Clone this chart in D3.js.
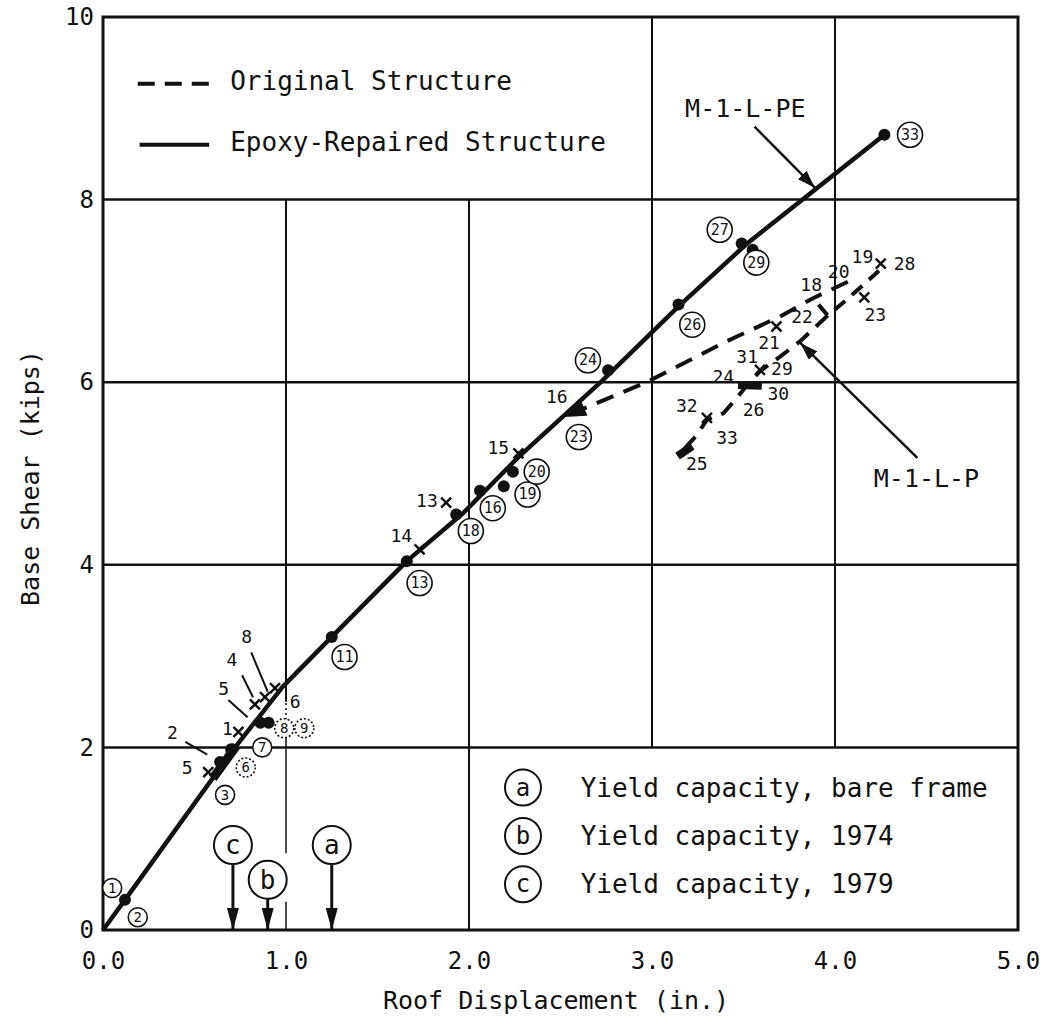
<!DOCTYPE html>
<html>
<head>
<meta charset="utf-8">
<script src="https://cdn.jsdelivr.net/npm/d3@7"></script>
<style>
  html, body { margin: 0; padding: 0; background: #fff; }
  svg { display: block; }
  text { font-family: "DejaVu Sans Mono", monospace; fill: #111; }
</style>
</head>
<body>
<svg id="chart" width="1047" height="1026"></svg>
<script>
"use strict";

// axes
var xTickValues = [0, 1, 2, 3, 4, 5];
var xTickLabels = ['0.0', '1.0', '2.0', '3.0', '4.0', '5.0'];
var yTickValues = [0, 2, 4, 6, 8, 10];

// Epoxy-repaired structure (M-1-L-PE): roof displacement (in.) / base shear (kips)
var epoxyDisp  = [0, 0.12, 0.71, 0.98, 1.25, 1.66, 1.97, 2.27, 2.73, 3.145, 3.52, 4.27];
var epoxyShear = [0, 0.33, 1.97, 2.66, 3.21, 4.04, 4.57, 5.18, 6.02, 6.83, 7.52, 8.71];

// filled test points on the epoxy curve
var dotDisp  = [0.12, 0.64, 0.70, 0.86, 0.905, 1.25, 1.66, 1.93, 2.06, 2.19, 2.24, 2.76, 3.145, 3.49, 3.55, 4.27];
var dotShear = [0.33, 1.84, 1.98, 2.27, 2.27, 3.21, 4.04, 4.55, 4.81, 4.86, 5.02, 6.13, 6.85, 7.52, 7.45, 8.71];

// circled run numbers (epoxy-repaired)
var runNames = ['1', '2', '3', '6', '7', '8', '9', '11', '13', '16', '18', '19', '20', '23', '24', '26', '27', '29', '33'];
var runDisp  = [0.05, 0.19, 0.667, 0.78, 0.87, 0.99, 1.10, 1.32, 1.73, 2.13, 2.01, 2.32, 2.37, 2.60, 2.65, 3.22, 3.37, 3.57, 4.41];
var runShear = [0.46, 0.14, 1.48, 1.78, 2.00, 2.21, 2.21, 2.99, 3.80, 4.62, 4.37, 4.77, 5.02, 5.40, 6.24, 6.63, 7.67, 7.31, 8.71];
var runFaint = ['6', '8', '9'];

// Original structure (M-1-L-P), dashed branches
var origUpDisp    = [4.07, 3.88, 3.70, 3.41, 2.97, 2.52];
var origUpShear   = [7.10, 6.92, 6.72, 6.45, 6.00, 5.62];
var origPeakDisp  = [3.91, 3.96, 4.05, 4.24];
var origPeakShear = [6.85, 6.73, 6.88, 7.22];
var origDownDisp  = [3.96, 3.81, 3.70, 3.59, 3.52, 3.46, 3.39, 3.30, 3.245, 3.14];
var origDownShear = [6.73, 6.45, 6.28, 6.12, 5.97, 5.82, 5.66, 5.59, 5.42, 5.19];

// original structure test points (x marks)
var markDisp  = [0.575, 0.74, 0.83, 0.885, 0.94, 1.73, 1.875, 2.27, 3.68, 4.25, 4.16, 3.59, 3.30];
var markShear = [1.73, 2.17, 2.47, 2.55, 2.65, 4.17, 4.68, 5.22, 6.61, 7.30, 6.93, 6.135, 5.61];

// original structure run numbers
var origNames = ['5', '2', '1', '5', '4', '8', '6', '14', '13', '15', '16', '21', '22', '18', '20', '19', '28', '23', '31', '29', '24', '30', '26', '32', '33', '25'];
var origDisp  = [0.46, 0.38, 0.68, 0.66, 0.705, 0.785, 1.05, 1.63, 1.77, 2.16, 2.48, 3.64, 3.82, 3.87, 4.02, 4.15, 4.38, 4.22, 3.52, 3.71, 3.39, 3.69, 3.555, 3.19, 3.41, 3.245];
var origShear = [1.78, 2.16, 2.21, 2.65, 2.96, 3.21, 2.50, 4.32, 4.70, 5.29, 5.84, 6.43, 6.72, 7.07, 7.21, 7.38, 7.30, 6.74, 6.28, 6.15, 6.06, 5.88, 5.70, 5.75, 5.39, 5.11];

// leader lines from run numbers to their points [x1, y1, x2, y2]
var leaders = [
    [0.45, 2.06, 0.57, 1.92],
    [0.685, 2.52, 0.79, 2.33],
    [0.76, 2.79, 0.82, 2.55],
    [0.81, 3.04, 0.90, 2.61]
];

// yield capacities
var yieldKeys  = ['a', 'b', 'c'];
var yieldDisp  = [1.25, 0.90, 0.71];
var yieldTagAt = [0.93, 0.55, 0.93];
var yieldText  = ['Yield capacity, bare frame', 'Yield capacity, 1974', 'Yield capacity, 1979'];

var ink = '#111';
var svg = d3.select('#chart');
var x = d3.scaleLinear().domain([0, 5]).range([103, 1018]);
var y = d3.scaleLinear().domain([0, 10]).range([930, 17]);

function zip(xs, ys) {
    return xs.map((v, i) => [v, ys[i]]);
}

var line = d3.line().x(d => x(d[0])).y(d => y(d[1]));

// arrowheads
var defs = svg.append('defs');
function arrowMarker(id, len, half) {
    defs.append('marker')
        .attr('id', id)
        .attr('viewBox', `0 ${-half} ${len} ${half * 2}`)
        .attr('refX', len)
        .attr('refY', 0)
        .attr('markerWidth', len)
        .attr('markerHeight', half * 2)
        .attr('markerUnits', 'userSpaceOnUse')
        .attr('orient', 'auto')
        .append('path')
        .attr('d', `M0,${-half}L${len},0L0,${half}Z`)
        .attr('fill', ink);
}
arrowMarker('head-yield', 22, 6);
arrowMarker('head-ptr', 18, 6);
arrowMarker('head-dash', 22, 8);

// grid
var grid = svg.append('g').attr('stroke', ink).attr('fill', 'none');
[2, 4, 6, 8].forEach(v => {
    grid.append('line')
        .attr('x1', x(0)).attr('x2', x(5))
        .attr('y1', y(v)).attr('y2', y(v))
        .attr('stroke-width', 2.5);
});
var vSegments = [[1, 2.5, 8], [1, 0.84, 2.08], [1, 0, 0.31], [2, 0, 8], [3, 2, 10], [4, 2, 10]];
vSegments.forEach(s => {
    grid.append('line')
        .attr('x1', x(s[0])).attr('x2', x(s[0]))
        .attr('y1', y(s[1])).attr('y2', y(s[2]))
        .attr('stroke-width', s[0] === 1 && s[2] < 2.5 ? 1.5 : 2);
});
grid.append('line')
    .attr('x1', x(1)).attr('x2', x(1))
    .attr('y1', y(2.08)).attr('y2', y(2.5))
    .attr('stroke-width', 1.5)
    .attr('stroke-dasharray', '2,3');

// frame
svg.append('rect')
    .attr('x', x(0)).attr('y', y(10))
    .attr('width', x(5) - x(0)).attr('height', y(0) - y(10))
    .attr('fill', 'none').attr('stroke', ink).attr('stroke-width', 3);

// tick labels
var xAxis = svg.append('g')
    .attr('transform', `translate(0,${y(0)})`)
    .call(d3.axisBottom(x).tickValues(xTickValues).tickFormat((d, i) => xTickLabels[i]).tickSize(0).tickPadding(22));
var yAxis = svg.append('g')
    .attr('transform', `translate(${x(0)},0)`)
    .call(d3.axisLeft(y).tickValues(yTickValues).tickFormat(d3.format('d')).tickSize(0).tickPadding(9));
[xAxis, yAxis].forEach(a => {
    a.select('.domain').remove();
    a.selectAll('text').attr('font-size', 24).attr('font-family', '"DejaVu Sans Mono", monospace').attr('fill', ink);
});

// axis titles
svg.append('text')
    .attr('x', 556).attr('y', 1000)
    .attr('text-anchor', 'middle').attr('dominant-baseline', 'central')
    .attr('font-size', 25)
    .text('Roof Displacement (in.)');
svg.append('text')
    .attr('transform', 'translate(30,478) rotate(-90)')
    .attr('text-anchor', 'middle').attr('dominant-baseline', 'central')
    .attr('font-size', 25)
    .text('Base Shear (kips)');

// legend, top left
var legend = svg.append('g');
legend.append('line')
    .attr('x1', x(0.19)).attr('x2', x(0.58))
    .attr('y1', y(9.27)).attr('y2', y(9.27))
    .attr('stroke', ink).attr('stroke-width', 4).attr('stroke-dasharray', '17,10');
legend.append('line')
    .attr('x1', x(0.2)).attr('x2', x(0.58))
    .attr('y1', y(8.6)).attr('y2', y(8.6))
    .attr('stroke', ink).attr('stroke-width', 4);
legend.selectAll('text.entry')
    .data(['Original Structure', 'Epoxy-Repaired Structure'])
    .enter().append('text')
    .attr('class', 'entry')
    .attr('x', x(0.695))
    .attr('y', (d, i) => y(i === 0 ? 9.3 : 8.63))
    .attr('dominant-baseline', 'central')
    .attr('font-size', 26)
    .text(d => d);

// original structure, dashed
var orig = svg.append('g').attr('fill', 'none').attr('stroke', ink).attr('stroke-width', 4);
orig.append('path')
    .attr('d', line(zip(origUpDisp, origUpShear)))
    .attr('stroke-dasharray', '18,11')
    .attr('marker-end', 'url(#head-dash)');
orig.append('path')
    .attr('d', line(zip(origPeakDisp, origPeakShear)))
    .attr('stroke-dasharray', '14,9');
orig.append('path')
    .attr('d', line(zip(origDownDisp, origDownShear)))
    .attr('stroke-dasharray', '16,10');
// blobs where runs overlap
orig.append('line')
    .attr('x1', x(3.47)).attr('x2', x(3.60))
    .attr('y1', y(5.97)).attr('y2', y(5.96))
    .attr('stroke-width', 8);
orig.append('line')
    .attr('x1', x(3.14)).attr('x2', x(3.22))
    .attr('y1', y(5.19)).attr('y2', y(5.30))
    .attr('stroke-width', 8);

// epoxy-repaired structure, solid
svg.append('path')
    .attr('d', line(zip(epoxyDisp, epoxyShear)))
    .attr('fill', 'none').attr('stroke', ink)
    .attr('stroke-width', 4.5).attr('stroke-linejoin', 'round');
svg.append('line')
    .attr('x1', x(0.60)).attr('x2', x(0.73))
    .attr('y1', y(1.66)).attr('y2', y(2.02))
    .attr('stroke', ink).attr('stroke-width', 9);

svg.append('g').selectAll('circle')
    .data(zip(dotDisp, dotShear))
    .enter().append('circle')
    .attr('cx', d => x(d[0])).attr('cy', d => y(d[1]))
    .attr('r', 6).attr('fill', ink);

// x marks
svg.append('g').selectAll('path')
    .data(zip(markDisp, markShear))
    .enter().append('path')
    .attr('transform', d => `translate(${x(d[0])},${y(d[1])})`)
    .attr('d', 'M-5,-5L5,5M-5,5L5,-5')
    .attr('stroke', ink).attr('stroke-width', 2.5);

// leaders
svg.append('g').selectAll('line')
    .data(leaders)
    .enter().append('line')
    .attr('x1', d => x(d[0])).attr('y1', d => y(d[1]))
    .attr('x2', d => x(d[2])).attr('y2', d => y(d[3]))
    .attr('stroke', ink).attr('stroke-width', 2);

// original run numbers
svg.append('g').selectAll('text')
    .data(origNames)
    .enter().append('text')
    .attr('x', (d, i) => x(origDisp[i]))
    .attr('y', (d, i) => y(origShear[i]))
    .attr('text-anchor', 'middle').attr('dominant-baseline', 'central')
    .attr('font-size', 18)
    .text(d => d);

// circled run numbers
var runs = svg.append('g').selectAll('g')
    .data(runNames)
    .enter().append('g')
    .attr('transform', (d, i) => `translate(${x(runDisp[i])},${y(runShear[i])})`);
runs.append('circle')
    .attr('r', d => d.length > 1 ? 12.5 : 9.5)
    .attr('fill', '#fff')
    .attr('stroke', ink)
    .attr('stroke-width', 1.6)
    .attr('stroke-dasharray', d => runFaint.includes(d) ? '2,2' : null);
runs.append('text')
    .attr('text-anchor', 'middle').attr('dominant-baseline', 'central')
    .attr('font-size', d => d.length > 1 ? 15 : 14)
    .text(d => d);

// pointer labels
function pointer(label, lx, ly, x1, y1, x2, y2) {
    svg.append('text')
        .attr('x', x(lx)).attr('y', y(ly))
        .attr('text-anchor', 'middle').attr('dominant-baseline', 'central')
        .attr('font-size', 25)
        .text(label);
    svg.append('line')
        .attr('x1', x(x1)).attr('y1', y(y1))
        .attr('x2', x(x2)).attr('y2', y(y2))
        .attr('stroke', ink).attr('stroke-width', 2.5)
        .attr('marker-end', 'url(#head-ptr)');
}
pointer('M-1-L-PE', 3.51, 9.0, 3.56, 8.80, 3.89, 8.13);
pointer('M-1-L-P', 4.50, 4.95, 4.45, 5.17, 3.81, 6.43);

// yield capacity arrows
var tags = svg.append('g').selectAll('g')
    .data(yieldKeys)
    .enter().append('g');
tags.append('line')
    .attr('x1', (d, i) => x(yieldDisp[i])).attr('x2', (d, i) => x(yieldDisp[i]))
    .attr('y1', (d, i) => y(yieldTagAt[i]) + 19).attr('y2', y(0))
    .attr('stroke', ink).attr('stroke-width', 3)
    .attr('marker-end', 'url(#head-yield)');
tags.append('circle')
    .attr('cx', (d, i) => x(yieldDisp[i])).attr('cy', (d, i) => y(yieldTagAt[i]))
    .attr('r', 19).attr('fill', '#fff').attr('stroke', ink).attr('stroke-width', 2);
tags.append('text')
    .attr('x', (d, i) => x(yieldDisp[i])).attr('y', (d, i) => y(yieldTagAt[i]))
    .attr('text-anchor', 'middle').attr('dominant-baseline', 'central')
    .attr('font-size', 26)
    .text(d => d);

// yield legend, lower right box
var keyRows = [1.56, 1.03, 0.50];
var keys = svg.append('g').selectAll('g')
    .data(yieldKeys)
    .enter().append('g');
keys.append('circle')
    .attr('cx', x(2.295)).attr('cy', (d, i) => y(keyRows[i]))
    .attr('r', 18).attr('fill', '#fff').attr('stroke', ink).attr('stroke-width', 2);
keys.append('text')
    .attr('x', x(2.295)).attr('y', (d, i) => y(keyRows[i]))
    .attr('text-anchor', 'middle').attr('dominant-baseline', 'central')
    .attr('font-size', 24)
    .text(d => d);
keys.append('text')
    .attr('x', x(2.61)).attr('y', (d, i) => y(keyRows[i]))
    .attr('dominant-baseline', 'central')
    .attr('font-size', 26)
    .text((d, i) => yieldText[i]);
</script>
</body>
</html>
